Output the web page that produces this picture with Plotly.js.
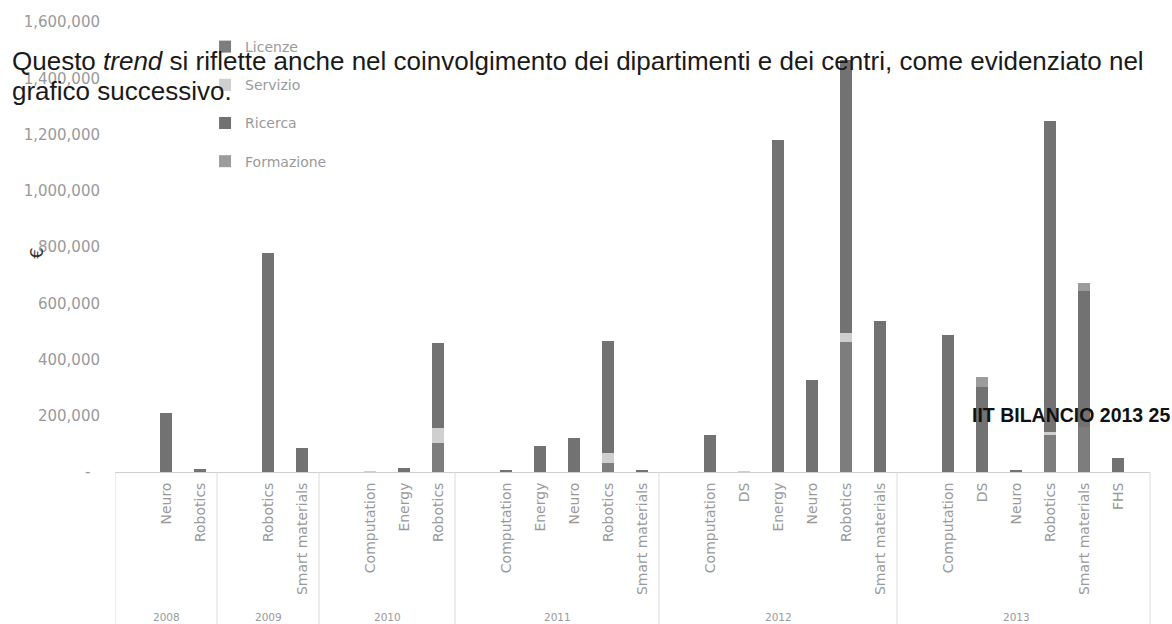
<!DOCTYPE html>
<html>
<head>
<meta charset="utf-8">
<script src="https://cdn.plot.ly/plotly-3.0.1.min.js"></script>
<style>html,body{margin:0;padding:0;background:#fff;}#chart{width:1172px;height:624px;}</style>
</head>
<body>
<div id="chart"></div>
<script>
// ---- data ----
const yearOf = ["2008","2008","2008","2009","2009","2009","2010","2010","2010","2010",
  "2011","2011","2011","2011","2011","2011","2012","2012","2012","2012","2012","2012","2012",
  "2013","2013","2013","2013","2013","2013","2013"];
const department = ["","Neuro","Robotics","","Robotics","Smart materials","","Computation","Energy","Robotics",
  "","Computation","Energy","Neuro","Robotics","Smart materials","","Computation","DS","Energy","Neuro","Robotics","Smart materials",
  "","Computation","DS","Neuro","Robotics","Smart materials","FHS"];
const yearLabels = ["2008","2009","2010","2011","2012","2013"];

const licenze    = [null,0,0,null,0,0,null,0,0,103000,null,0,0,0,32000,0,null,0,0,0,0,462000,0,null,0,0,0,132000,160000,0];
const servizio   = [null,0,0,null,0,0,null,3000,0,53000,null,0,0,0,36000,0,null,0,5000,0,0,32000,0,null,0,0,0,10000,0,0];
const ricerca    = [null,210000,10000,null,780000,85000,null,0,15000,303000,null,8000,92000,121000,397000,6000,null,132000,0,1180000,327000,971000,537000,null,487000,303000,8000,1106000,484000,50000];
const formazione = [null,0,0,null,0,0,null,0,0,0,null,0,0,0,0,0,null,0,0,0,0,0,0,null,0,35000,0,0,28000,0];

const seriesNames = ["Licenze","Servizio","Ricerca","Formazione"];
const yTickVals = [0,200000,400000,600000,800000,1000000,1200000,1400000,1600000];
const yTickText = ["-\u00a0\u00a0","200,000","400,000","600,000","800,000","1,000,000","1,200,000","1,400,000","1,600,000"];

// ---- build ----
const keys = yearOf.map((y,i) => y + "|" + department[i]);
const colors = {"Licenze":"#7d7d7d","Servizio":"#cfcfcf","Ricerca":"#727272","Formazione":"#9c9c9c"};
const values = {"Licenze":licenze,"Servizio":servizio,"Ricerca":ricerca,"Formazione":formazione};

const traces = seriesNames.map(n => ({
  type:'bar', name:n, x:keys, y:values[n], legendgroup:n,
  marker:{color:colors[n], line:{width:0}}
}));

// group boundaries from data
const groups = yearLabels.map(y => {
  const first = yearOf.indexOf(y), last = yearOf.lastIndexOf(y);
  return {year:y, first:first, last:last};
});

const gridFont = {family:'DejaVu Sans', size:14, color:'#9a9a9a'};

const annotations = [
  {text:'Questo <i>trend</i> si riflette anche nel coinvolgimento dei dipartimenti e dei centri, come evidenziato nel',
   xref:'paper', yref:'paper', x:-0.1014, y:0.913, xanchor:'left', yanchor:'middle', showarrow:false,
   font:{family:'Liberation Sans, Arial', size:26, color:'#1a1a1a'}},
  {text:'grafico successivo.', xref:'paper', yref:'paper', x:-0.1014, y:0.847, xanchor:'left', yanchor:'middle', showarrow:false,
   font:{family:'Liberation Sans, Arial', size:26, color:'#1a1a1a'}},
  {text:'<b>IIT BILANCIO 2013 25</b>', xref:'paper', yref:'paper', x:0.826, y:0.127, xanchor:'left', yanchor:'middle', showarrow:false,
   font:{family:'Liberation Sans, Arial', size:19.5, color:'#111'}},
  {text:'€', xref:'paper', yref:'paper', x:-0.0754, y:0.487, xanchor:'center', yanchor:'middle', showarrow:false, textangle:-90,
   font:{family:'DejaVu Sans', size:18, color:'#333'}}
].concat(groups.map(g => ({
  text:g.year, xref:'x', yref:'paper', x:(g.first + g.last)/2, y:-0.322, xanchor:'center', yanchor:'middle', showarrow:false,
  font:{family:'DejaVu Sans', size:10.5, color:'#9a9a9a'}
})));

const shapes = groups.map(g => ({
  type:'line', xref:'x', yref:'paper', x0:g.first - 0.5, x1:g.first - 0.5, y0:0, y1:-0.345,
  line:{color:'#dadada', width:1}
})).concat([{type:'line', xref:'paper', yref:'paper', x0:1, x1:1, y0:0, y1:-0.345, line:{color:'#dadada', width:1}}]);

const layout = {
  width:1172, height:624,
  margin:{l:115, r:22, t:22, b:152},
  barmode:'stack', bargap:0.63,
  paper_bgcolor:'#ffffff', plot_bgcolor:'#ffffff',
  showlegend:true,
  legend:{x:0.087, y:0.98, xanchor:'left', yanchor:'top', traceorder:'grouped', tracegroupgap:17,
          font:gridFont, bgcolor:'rgba(0,0,0,0)'},
  xaxis:{type:'category', categoryorder:'array', categoryarray:keys, tickvals:keys, ticktext:department,
         tickangle:-90, tickfont:gridFont, showline:true, linecolor:'#cfcfcf', linewidth:1, ticks:'',
         showgrid:false, zeroline:false, range:[-0.5, 29.94], ticklabelstandoff:4},
  yaxis:{range:[0,1600000], tickvals:yTickVals, ticktext:yTickText, showgrid:false, zeroline:false,
         showline:false, ticks:'', tickfont:{family:'DejaVu Sans', size:15, color:'#9a9a9a'}, ticklabelstandoff:14},
  annotations:annotations,
  shapes:shapes
};

Plotly.newPlot('chart', traces, layout, {displayModeBar:false, staticPlot:true});
</script>
</body>
</html>
